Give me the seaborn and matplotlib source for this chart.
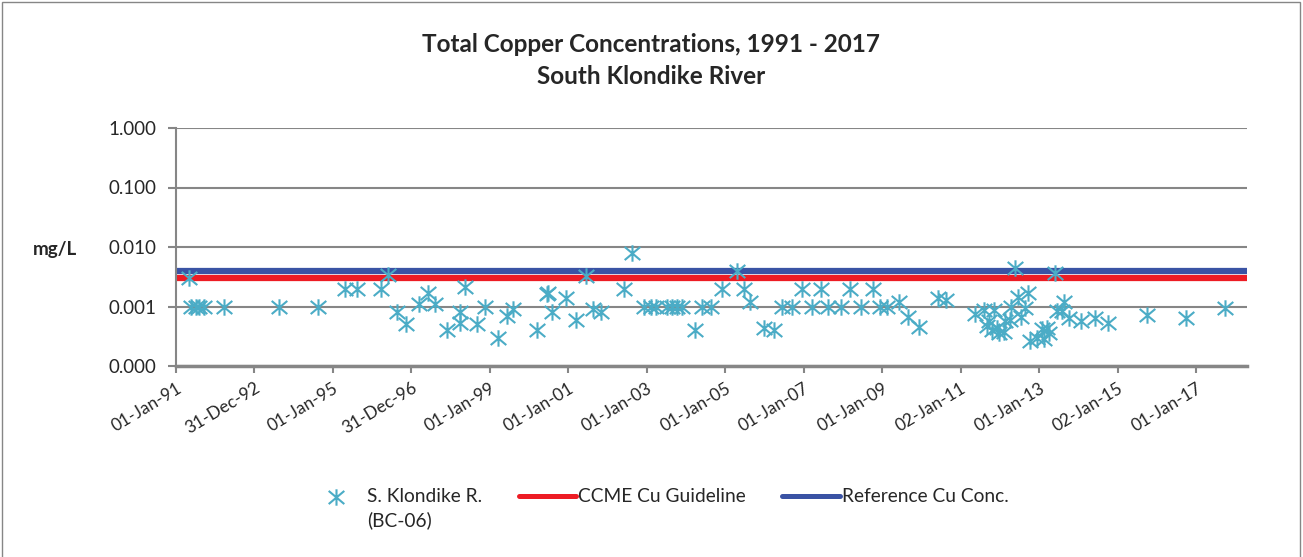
import numpy as np
import pandas as pd
import seaborn as sns
import matplotlib.pyplot as plt
import matplotlib.dates as mdates
from matplotlib.path import Path
from matplotlib.patches import Rectangle
from matplotlib.ticker import FuncFormatter, NullLocator

# sample dates and total copper (mg/L)
sample_dates = [
    "1991-04-28", "1991-05-20", "1991-07-05", "1991-08-05", "1991-09-20", "1992-03-19",
    "1993-08-17", "1994-08-19", "1995-04-23", "1995-08-17", "1996-03-21", "1996-06-01",
    "1996-08-24", "1996-11-16", "1997-03-13", "1997-06-09", "1997-08-07", "1997-11-24",
    "1998-03-25", "1998-03-28", "1998-05-15", "1998-09-08", "1998-11-17", "1999-03-20",
    "1999-06-13", "1999-08-04", "2000-03-12", "2000-06-15", "2000-06-22", "2000-07-30",
    "2000-12-14", "2001-03-17", "2001-06-12", "2001-08-18", "2001-11-04", "2002-06-03",
    "2002-08-13", "2002-12-06", "2003-02-06", "2003-03-24", "2003-07-11", "2003-08-27",
    "2003-10-12", "2003-11-27", "2004-03-23", "2004-06-01", "2004-08-25", "2004-12-04",
    "2005-04-22", "2005-06-22", "2005-08-24", "2005-12-26", "2006-03-29", "2006-06-16",
    "2006-09-17", "2006-12-19", "2007-03-21", "2007-06-16", "2007-08-17", "2007-12-18",
    "2008-03-05", "2008-06-20", "2008-10-06", "2008-12-10", "2009-02-17", "2009-06-05",
    "2009-08-31", "2009-12-14", "2010-06-06", "2010-08-19", "2011-05-19", "2011-08-04",
    "2011-09-04", "2011-09-19", "2011-10-21", "2011-11-04", "2011-12-06", "2011-12-28",
    "2012-02-06", "2012-02-22", "2012-04-09", "2012-04-18", "2012-05-25", "2012-06-19",
    "2012-07-20", "2012-08-26", "2012-09-20", "2012-10-11", "2012-12-13", "2013-01-29",
    "2013-02-13", "2013-03-16", "2013-04-07", "2013-05-26", "2013-06-18", "2013-08-03",
    "2013-08-18", "2013-10-04", "2014-01-25", "2014-06-02", "2014-10-03", "2015-09-30",
    "2016-10-02", "2017-09-30",
]
copper_mg_l = [
    0.003, 0.001, 0.001, 0.001, 0.001, 0.001,
    0.001, 0.001, 0.002, 0.002, 0.002, 0.0034,
    0.0008, 0.0005, 0.0011, 0.0017, 0.0011, 0.0004,
    0.0008, 0.00053, 0.0021, 0.0005, 0.001, 0.0003,
    0.0007, 0.0009, 0.0004, 0.0016, 0.0017, 0.0008,
    0.0014, 0.0006, 0.0032, 0.0009, 0.0008, 0.002,
    0.008, 0.001, 0.001, 0.001, 0.001, 0.001,
    0.001, 0.001, 0.0004, 0.001, 0.001, 0.002,
    0.004, 0.002, 0.0012, 0.00044, 0.0004, 0.001,
    0.001, 0.002, 0.001, 0.002, 0.001, 0.001,
    0.002, 0.001, 0.002, 0.001, 0.001, 0.0012,
    0.00067, 0.00045, 0.0014, 0.0013, 0.00076, 0.00087,
    0.00047, 0.00057, 0.00041, 0.00087, 0.00044, 0.00036,
    0.00038, 0.00057, 0.0006, 0.001, 0.0045, 0.00146,
    0.00067, 0.00095, 0.0017, 0.00026, 0.0003, 0.00042,
    0.00028, 0.00044, 0.00036, 0.0037, 0.00083, 0.00083,
    0.0012, 0.00065, 0.00057, 0.00065, 0.00053, 0.00071,
    0.00063, 0.00093,
]
ccme_guideline = 0.003
reference_conc = 0.004
y_ticks = [0.0001, 0.001, 0.01, 0.1, 1.0]

df = pd.DataFrame({"date": pd.to_datetime(sample_dates), "cu": copper_mg_l})

sns.set_style("white")
plt.rcParams['font.family'] = ['Lato', 'DejaVu Sans']

teal = "#4BACC6"
red = "#ED1C24"
blue = "#3A53A4"
gray = "#868686"

W, H = 1303, 557
fig = plt.figure(figsize=(W / 100, H / 100), dpi=100)
ax = fig.add_axes([176 / W, 1 - 366 / H, (1247 - 176) / W, (366 - 128) / H])

# excel style star: vertical bar plus an X
star = Path([(0, -1), (0, 1), (-0.95, -0.8), (0.95, 0.8), (-0.95, 0.8), (0.95, -0.8)],
            [Path.MOVETO, Path.LINETO, Path.MOVETO, Path.LINETO, Path.MOVETO, Path.LINETO])

ax.axhline(ccme_guideline, color=red, lw=4.5, label="CCME Cu Guideline", zorder=2)
ax.axhline(reference_conc, color=blue, lw=4.5, label="Reference Cu Conc.", zorder=2)
sns.scatterplot(data=df, x="date", y="cu", marker=star, s=140, color=teal,
                edgecolor=teal, linewidth=1.5, ax=ax, label="S. Klondike R.", zorder=3)

ax.set_yscale("log")
ax.set_ylim(1e-4, 1)
ax.set_yticks(y_ticks)
ax.yaxis.set_major_formatter(FuncFormatter(lambda v, p: f"{v:.3f}"))
ax.yaxis.set_minor_locator(NullLocator())
ax.grid(axis="y", color=gray, lw=1.5)
ax.set_axisbelow(True)

start = mdates.date2num(pd.Timestamp("1991-01-01"))
ax.set_xticks(start + 730.6 * np.arange(14))
ax.xaxis.set_major_formatter(mdates.DateFormatter("%d-%b-%y"))
ax.xaxis.set_minor_locator(NullLocator())
ax.set_xlim(start, start + 9972)

for s in ["top", "right"]:
    ax.spines[s].set_visible(False)
ax.spines["left"].set_color(gray)
ax.spines["left"].set_linewidth(1.5)
ax.spines["bottom"].set_color(gray)
ax.spines["bottom"].set_linewidth(2.5)

ax.tick_params(axis="x", direction="out", length=5, width=1.5, color=gray,
               labelsize=12.5, pad=5, bottom=True)
ax.tick_params(axis="y", direction="out", length=6, width=1.5, color=gray,
               labelsize=13.5, pad=8, left=True)
plt.setp(ax.get_xticklabels(), rotation=31, ha="right", rotation_mode="anchor")
ax.set_xlabel("")
ax.set_ylabel("")

fig.text(55 / W, 1 - 250 / H, "mg/L", ha="center", va="center", fontsize=13.5, fontweight="bold")
fig.text(0.5, 1 - 45 / H, "Total Copper Concentrations, 1991 - 2017",
         ha="center", va="center", fontsize=17.5, fontweight="bold")
fig.text(0.5, 1 - 76 / H, "South Klondike River",
         ha="center", va="center", fontsize=17.5, fontweight="bold")

handles, labels = ax.get_legend_handles_labels()
order = [labels.index("S. Klondike R."), labels.index("CCME Cu Guideline"),
         labels.index("Reference Cu Conc.")]
if ax.get_legend() is not None:
    ax.get_legend().remove()
leg = fig.legend([handles[i] for i in order], [labels[i] for i in order], ncol=3,
                 loc="center", bbox_to_anchor=(658 / W, 1 - 497 / H), frameon=False,
                 fontsize=13.8, handlelength=3.0, handletextpad=0.1, columnspacing=1.9)
for line in leg.get_lines():
    line.set_linewidth(3.6)

fig.canvas.draw()
bb = leg.get_texts()[0].get_window_extent()
fig.text(bb.x0 / W, (bb.y0 - 6) / H, "(BC-06)", ha="left", va="top", fontsize=13.8)

fig.patches.append(Rectangle((2 / W, -0.01), 1 - 5 / W, 1.01 - 2 / H, transform=fig.transFigure,
                             fill=False, edgecolor=gray, lw=1))

fig.savefig("out.png", dpi=100)
